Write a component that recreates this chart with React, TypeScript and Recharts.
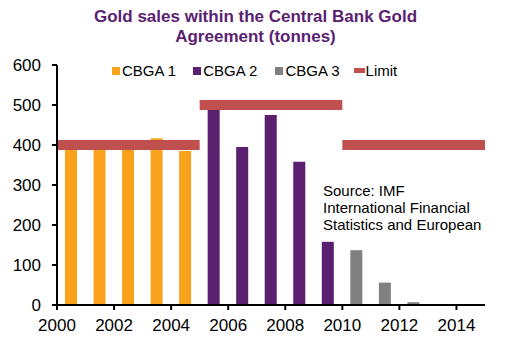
import React from 'react'
import {
  ComposedChart,
  Bar,
  Line,
  XAxis,
  YAxis,
} from 'recharts'

// sales in tonnes per year, split by agreement
const years = [2000, 2001, 2002, 2003, 2004, 2005, 2006, 2007, 2008, 2009, 2010, 2011, 2012, 2013, 2014]
const cbga1 = [396, 394, 392, 417, 385, null, null, null, null, null, null, null, null, null, null]
const cbga2 = [null, null, null, null, null, 497, 395, 475, 358, 158, null, null, null, null, null]
const cbga3 = [null, null, null, null, null, null, null, null, null, null, 137, 56, 7, 0, 0]

// ceiling of each agreement: first year, end (exclusive), tonnes
const limitStart = [2000, 2005, 2010]
const limitEnd = [2005, 2010, 2015]
const limitValue = [400, 500, 400]

const yTicks = [0, 100, 200, 300, 400, 500, 600]
const xLabelYears = [2000, 2002, 2004, 2006, 2008, 2010, 2012, 2014]

const ORANGE = '#F9A31C'
const PURPLE = '#5A1F6F'
const GRAY = '#808080'
const RED = '#C0504D'
const FONT = '"Liberation Sans", Arial, sans-serif'

const data = years.map((year, i) => ({
  year,
  cbga1: cbga1[i],
  cbga2: cbga2[i],
  cbga3: cbga3[i],
}))

const limitSegments = limitStart.map((start, i) => [
  { x: start, limit: limitValue[i] },
  { x: limitEnd[i], limit: limitValue[i] },
])

// labels sit on the boundary before each category, like Excel's "between tick marks"
const YearTick = (props: any) => {
  const { x, y, payload } = props
  if (!xLabelYears.includes(Number(payload.value))) return null
  const half = payload.offset ?? 14.27
  const tx = x - half
  return (
    <g>
      <line x1={tx} y1={y - 5} x2={tx} y2={y} stroke="#000" strokeWidth={2} />
      <text x={tx} y={y + 21} textAnchor="middle" fontSize={17} fill="#000" fontFamily={FONT}>
        {payload.value}
      </text>
    </g>
  )
}

const legendItems = [
  { name: 'CBGA 1', color: ORANGE, kind: 'square', gap: 17 },
  { name: 'CBGA 2', color: PURPLE, kind: 'square', gap: 18 },
  { name: 'CBGA 3', color: GRAY, kind: 'square', gap: 14 },
  { name: 'Limit', color: RED, kind: 'line', gap: 0 },
]

export default function App() {
  return (
    <div
      style={{
        position: 'absolute',
        left: 0,
        top: 0,
        width: 506,
        height: 351,
        background: '#fff',
        fontFamily: FONT,
      }}
    >
      <div
        style={{
          position: 'absolute',
          left: 0,
          top: 7,
          width: 511,
          textAlign: 'center',
          fontSize: 17,
          lineHeight: '20px',
          fontWeight: 'bold',
          color: '#5A2271',
        }}
      >
        Gold sales within the Central Bank Gold
        <br />
        Agreement (tonnes)
      </div>

      <ComposedChart
        width={506}
        height={351}
        data={data}
        margin={{ top: 65, right: 21, bottom: 16, left: 0 }}
      >
        <XAxis
          dataKey="year"
          xAxisId="cat"
          interval={0}
          height={30}
          tickSize={5}
          tickMargin={0}
          tickLine={false}
          axisLine={{ stroke: '#000', strokeWidth: 2 }}
          tick={<YearTick />}
        />
        <XAxis xAxisId="num" type="number" dataKey="x" domain={[2000, 2015]} hide allowDataOverflow />
        <YAxis
          domain={[0, 600]}
          ticks={yTicks}
          width={57}
          tickSize={5}
          tickMargin={11}
          axisLine={{ stroke: '#000', strokeWidth: 2 }}
          tickLine={{ stroke: '#000', strokeWidth: 2 }}
          tick={{ fontSize: 17, fill: '#000', fontFamily: FONT }}
        />
        <Bar dataKey="cbga1" xAxisId="cat" stackId="s" fill={ORANGE} barSize={12} isAnimationActive={false} />
        <Bar dataKey="cbga2" xAxisId="cat" stackId="s" fill={PURPLE} barSize={12} isAnimationActive={false} />
        <Bar dataKey="cbga3" xAxisId="cat" stackId="s" fill={GRAY} barSize={12} isAnimationActive={false} />
        {limitSegments.map((seg, i) => (
          <Line
            key={i}
            data={seg}
            xAxisId="num"
            dataKey="limit"
            stroke={RED}
            strokeWidth={10}
            dot={false}
            activeDot={false}
            isAnimationActive={false}
          />
        ))}
      </ComposedChart>

      <div
        style={{
          position: 'absolute',
          left: 112,
          top: 62,
          display: 'flex',
          alignItems: 'center',
          fontSize: 15,
          lineHeight: '17px',
          color: '#000',
        }}
      >
        {legendItems.map((item) => (
          <div key={item.name} style={{ display: 'flex', alignItems: 'center', marginRight: item.gap }}>
            {item.kind === 'square' ? (
              <span style={{ width: 8, height: 8, background: item.color, marginRight: 2 }} />
            ) : (
              <span style={{ width: 11, height: 5, background: item.color, marginRight: 1 }} />
            )}
            <span>{item.name}</span>
          </div>
        ))}
      </div>

      <div
        style={{
          position: 'absolute',
          left: 323,
          top: 182,
          fontSize: 15,
          lineHeight: '17px',
          color: '#000',
        }}
      >
        Source: IMF
        <br />
        International Financial
        <br />
        Statistics and European
      </div>
    </div>
  )
}
